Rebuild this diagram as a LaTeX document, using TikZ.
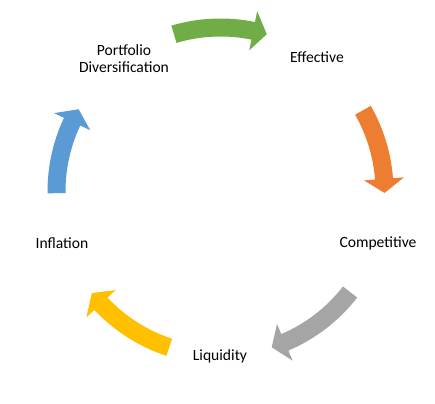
\documentclass[tikz,border=0pt]{standalone}
\usepackage{fontspec}
\setmainfont{Carlito}
\definecolor{accgreen}{HTML}{70AD47}
\definecolor{accorange}{HTML}{ED7D31}
\definecolor{accgray}{HTML}{A5A5A5}
\definecolor{accyellow}{HTML}{FFC000}
\definecolor{accblue}{HTML}{5B9BD5}

\begin{document}
\begin{tikzpicture}[x=1pt,y=1pt,
    label/.style={align=center,font=\fontsize{15.6}{16.5}\selectfont,inner sep=0pt}]
                \useasboundingbox (0,0) rectangle (435,403);
                \coordinate (c) at (220.5,211.5);

                % cycle labels
                \node[label] (portfolio) at (124,344.5) {Portfolio\\Diversification};
                \node[label] (effective) at (317,346) {Effective};
                \node[label] (competitive) at (378,160) {Competitive};
                \node[label] (liquidity) at (220,47) {Liquidity};
                \node[label] (inflation) at (62,160) {Inflation};

                % curved block arrows between the labels
                \begin{scope}[shift={(c)}]
                \foreach \col/\s/\e [evaluate=\e as \b using \e+4.9] in {accgreen/106.5/73.6, accorange/29.7/-0.5, accgray/-37.8/-71.8, accyellow/-108.2/-141.7, accblue/180.6/149.9} {
                    \fill[\col] (\s:173) arc[start angle=\s, end angle=\b, radius=173]
                        -- (\b:184) -- (\e:164) -- (\b:144) -- (\b:155)
                        arc[start angle=\b, end angle=\s, radius=155] -- cycle;
                }
                \end{scope}
            \end{tikzpicture}
\end{document}
